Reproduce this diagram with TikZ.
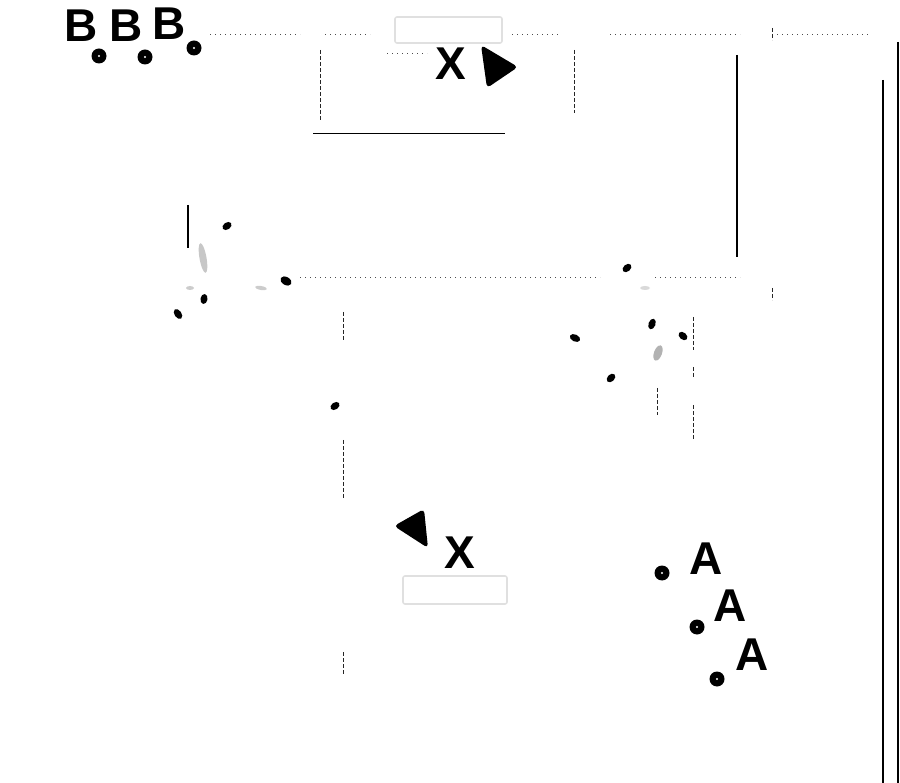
\documentclass[tikz,border=0pt]{standalone}
\usepackage{fontspec}
\newfontfamily\labfont{Liberation Sans}
\begin{document}
\begin{tikzpicture}[x=1pt,y=-1pt,
  lab/.style={font=\labfont\bfseries\fontsize{46}{46}\selectfont, inner sep=0pt},
  ring/.style={circle, fill=black, minimum size=15pt, inner sep=0pt,
    path picture={\fill[white] (path picture bounding box.center) circle (1.2pt);}},
  faintbox/.style={draw=black!12, line width=1.6pt, rounded corners=2pt},
  dots/.style={black!70, line width=0.7pt, dash pattern=on 1pt off 4pt},
  dashv/.style={black!85, line width=0.8pt, dash pattern=on 4pt off 2pt},
  tri/.style={fill=black, rounded corners=4pt},
]
\useasboundingbox (0,0) rectangle (900,783);

% top letters
\node[lab] (b1) at (81.5,26) {B};
\node[lab] (b2) at (126.5,25.5) {B};
\node[lab] (b3) at (169,24) {B};
\node[ring] (d1) at (99,56) {};
\node[ring] (d2) at (145,57) {};
\node[ring] (d3) at (194,48) {};

% top box, X and triangle
\draw[faintbox] (395,17) rectangle (502,43);
\node[lab] (x1) at (451,63.5) {X};
\fill[tri] (481,45) -- (518,67) -- (487,88) -- cycle;

% bottom box, X and triangle
\fill[tri] (394,526) -- (424,509) -- (428,548) -- cycle;
\node[lab] (x2) at (460,552.5) {X};
\draw[faintbox] (403,576) rectangle (507,604);

% A letters and rings
\node[lab] (a1) at (706,558.5) {A};
\node[lab] (a2) at (730,606) {A};
\node[lab] (a3) at (752.5,655) {A};
\node[ring] (e1) at (662,573) {};
\node[ring] (e2) at (697,627) {};
\node[ring] (e3) at (717,679) {};

% solid lines
\draw[line width=1pt] (313,134) -- (505,134);
\draw[line width=1.6pt] (737,55) -- (737,257);
\draw[line width=1.2pt] (883,80) -- (883,783);
\draw[line width=1.2pt] (898,42) -- (898,783);
\draw[line width=1.2pt] (188,205) -- (188,248);

% dotted lines
\draw[dots] (210,34) -- (300,34);
\draw[dots] (325,34) -- (370,34);
\draw[dots] (512,34) -- (560,34);
\draw[dots] (610,34) -- (740,34);
\draw[dots] (777,34) -- (870,34);
\draw[dots] (387,53) -- (427,53);
\draw[dots] (300,277) -- (600,277);
\draw[dots] (655,277) -- (740,277);

% dashed vertical fragments
\draw[dashv] (320,50) -- (320,120);
\draw[dashv] (574,50) -- (574,113);
\draw[dashv] (343,312) -- (343,340);
\draw[dashv] (343,440) -- (343,498);
\draw[dashv] (343,652) -- (343,675);
\draw[dashv] (693,317) -- (693,350);
\draw[dashv] (693,367) -- (693,377);
\draw[dashv] (693,405) -- (693,440);
\draw[dashv] (657,388) -- (657,415);
\draw[dashv] (772,28) -- (772,40);
\draw[dashv] (772,288) -- (772,300);

% small black blobs
\fill[rotate around={35:(227,226)}] (227,226) ellipse (5 and 3.5);
\fill[rotate around={-30:(286,281)}] (286,281) ellipse (6 and 4);
\fill[rotate around={80:(204,299)}] (204,299) ellipse (5 and 3.5);
\fill[rotate around={-55:(178,314)}] (178,314) ellipse (5.5 and 3.5);
\fill[rotate around={35:(335,406)}] (335,406) ellipse (5 and 3.5);
\fill[rotate around={40:(627,268)}] (627,268) ellipse (5 and 3.5);
\fill[rotate around={70:(652,324)}] (652,324) ellipse (5.5 and 3.5);
\fill[rotate around={-40:(683,336)}] (683,336) ellipse (5 and 3.5);
\fill[rotate around={-25:(575,338)}] (575,338) ellipse (5.5 and 3.5);
\fill[rotate around={45:(611,378)}] (611,378) ellipse (5 and 3.5);

% faint blobs
\fill[black!22, rotate around={-80:(203,258)}] (203,258) ellipse (15 and 3.5);
\fill[black!20] (190,288) ellipse (4 and 2);
\fill[black!20, rotate around={-10:(261,288)}] (261,288) ellipse (6 and 2);
\fill[black!30, rotate around={70:(658,353)}] (658,353) ellipse (8 and 4);
\fill[black!15] (645,288) ellipse (5 and 2);
\end{tikzpicture}
\end{document}
